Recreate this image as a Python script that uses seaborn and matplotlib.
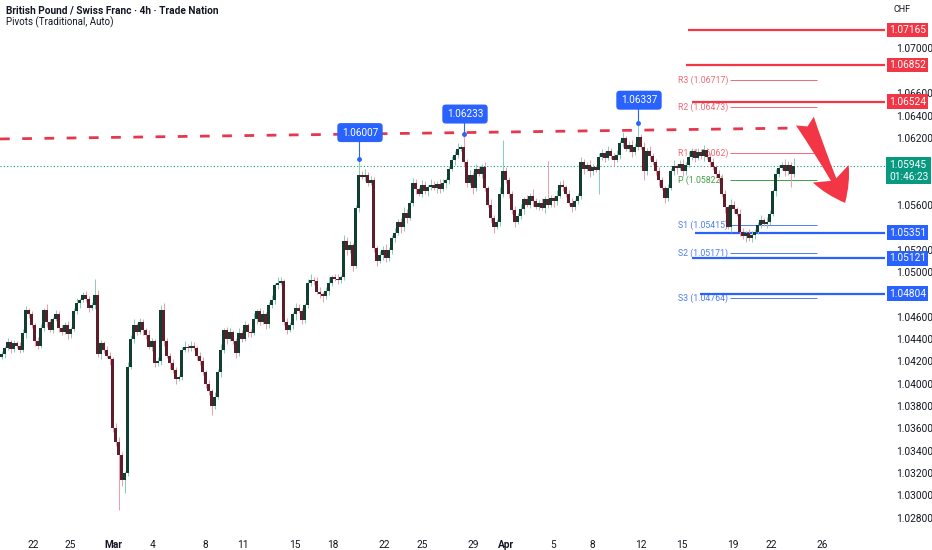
import numpy as np
import pandas as pd
import matplotlib
matplotlib.use("Agg")
import matplotlib.pyplot as plt
import matplotlib.transforms as mtransforms
import seaborn as sns

# 4h candles, closes (open = previous close)
first_open = 1.0424
closes = [
    1.0426, 1.0432, 1.0437, 1.0431, 1.0436, 1.0434, 1.0430, 1.0445, 1.0466, 1.0462,
    1.0452, 1.0438, 1.0434, 1.0450, 1.0466, 1.0455, 1.0448, 1.0458, 1.0462, 1.0450,
    1.0446, 1.0452, 1.0444, 1.0449, 1.0465, 1.0472, 1.0475, 1.0479, 1.0476, 1.0468,
    1.0470, 1.0479, 1.0426, 1.0436, 1.0430, 1.0425, 1.0422, 1.0360, 1.0348, 1.0336,
    1.0314, 1.0320, 1.0415, 1.0440, 1.0452, 1.0446, 1.0455, 1.0448, 1.0443, 1.0433,
    1.0438, 1.0418, 1.0420, 1.0466, 1.0438, 1.0425, 1.0418, 1.0412, 1.0404, 1.0406,
    1.0430, 1.0433, 1.0432, 1.0434, 1.0432, 1.0425, 1.0420, 1.0410, 1.0400, 1.0393,
    1.0380, 1.0388, 1.0410, 1.0430, 1.0448, 1.0440, 1.0446, 1.0438, 1.0427, 1.0445,
    1.0440, 1.0452, 1.0446, 1.0445, 1.0458, 1.0465, 1.0455, 1.0462, 1.0453, 1.0470,
    1.0475, 1.0488, 1.0490, 1.0492, 1.0455, 1.0448, 1.0452, 1.0462, 1.0468, 1.0465,
    1.0457, 1.0470, 1.0490, 1.0493, 1.0492, 1.0482, 1.0480, 1.0478, 1.0483, 1.0490,
    1.0495, 1.0494, 1.0493, 1.0495, 1.0528, 1.0520, 1.0524, 1.0505, 1.0557, 1.0587,
    1.0585, 1.0587, 1.0580, 1.0582, 1.0521, 1.0510, 1.0515, 1.0520, 1.0512, 1.0520,
    1.0530, 1.0535, 1.0545, 1.0540, 1.0553, 1.0548, 1.0562, 1.0580, 1.0574, 1.0570,
    1.0578, 1.0572, 1.0576, 1.0578, 1.0575, 1.0579, 1.0574, 1.0580, 1.0582, 1.0592,
    1.0600, 1.0605, 1.0610, 1.0612, 1.0598, 1.0580, 1.0587, 1.0575, 1.0592, 1.0588,
    1.0594, 1.0575, 1.0560, 1.0548, 1.0540, 1.0545, 1.0570, 1.0590, 1.0582, 1.0570,
    1.0555, 1.0545, 1.0550, 1.0556, 1.0565, 1.0560, 1.0568, 1.0563, 1.0558, 1.0562,
    1.0557, 1.0565, 1.0560, 1.0566, 1.0563, 1.0568, 1.0578, 1.0576, 1.0570, 1.0562,
    1.0558, 1.0563, 1.0568, 1.0598, 1.0592, 1.0596, 1.0590, 1.0594, 1.0591, 1.0603,
    1.0606, 1.0602, 1.0608, 1.0604, 1.0600, 1.0605, 1.0615, 1.0620, 1.0610, 1.0614,
    1.0607, 1.0612, 1.0621, 1.0612, 1.0590, 1.0608, 1.0604, 1.0598, 1.0590, 1.0582,
    1.0575, 1.0566, 1.0575, 1.0590, 1.0595, 1.0593, 1.0597, 1.0590, 1.0596, 1.0603,
    1.0608, 1.0602, 1.0607, 1.0604, 1.0609, 1.0603, 1.0598, 1.0594, 1.0588, 1.0584,
    1.0570, 1.0558, 1.0540, 1.0560, 1.0556, 1.0552, 1.0536, 1.0532, 1.0535, 1.0530,
    1.0533, 1.0536, 1.0542, 1.0546, 1.0543, 1.0545, 1.0552, 1.0572, 1.0588, 1.0593,
    1.0596, 1.0590, 1.0596, 1.0588, 1.05945,
]
# wick lengths in pips above / below the body
upper_wick = [
    3, 2, 4, 2, 3, 2, 3, 4, 3, 2, 3, 2, 4, 3, 2, 5, 3, 2, 4, 3,
    2, 3, 4, 2, 3, 5, 2, 3, 4, 2, 3, 15, 5, 3, 2, 4, 3, 2, 5, 4,
    3, 2, 4, 3, 6, 2, 4, 3, 2, 5, 3, 2, 4, 4, 6, 3, 2, 4, 3, 2,
    3, 5, 2, 4, 3, 2, 3, 4, 2, 3, 2, 4, 3, 5, 2, 3, 4, 2, 3, 5,
    3, 4, 2, 3, 5, 2, 3, 4, 2, 3, 4, 2, 5, 3, 2, 4, 3, 2, 4, 3,
    3, 2, 4, 5, 2, 3, 4, 2, 3, 5, 2, 3, 4, 2, 5, 3, 4, 2, 3, 14,
    3, 5, 2, 4, 3, 2, 4, 3, 5, 2, 3, 4, 2, 3, 5, 3, 2, 4, 3, 2,
    4, 3, 2, 5, 3, 2, 4, 3, 2, 3, 4, 3, 5, 2, 11, 3, 4, 2, 5, 3,
    3, 4, 2, 5, 3, 2, 6, 28, 4, 3, 2, 4, 3, 5, 2, 4, 3, 6, 3, 2,
    4, 3, 34, 3, 2, 5, 3, 4, 2, 3, 4, 2, 3, 5, 3, 2, 4, 3, 2, 3,
    4, 2, 5, 3, 2, 4, 3, 5, 2, 3, 4, 3, 12, 2, 4, 3, 5, 2, 3, 4,
    3, 2, 4, 3, 5, 2, 3, 4, 2, 5, 3, 2, 4, 3, 5, 2, 3, 4, 2, 3,
    4, 3, 2, 5, 3, 2, 4, 3, 2, 3, 4, 2, 3, 5, 2, 4, 3, 2, 4, 3,
    2, 5, 3, 2, 7,
]
lower_wick = [
    2, 3, 2, 4, 3, 2, 3, 2, 4, 3, 2, 4, 3, 2, 3, 4, 2, 3, 2, 4,
    3, 2, 4, 3, 2, 3, 4, 2, 3, 4, 2, 3, 2, 4, 3, 2, 5, 3, 4, 49,
    6, 12, 3, 2, 4, 3, 2, 5, 3, 2, 4, 3, 2, 3, 4, 2, 5, 3, 4, 2,
    3, 2, 4, 3, 2, 4, 3, 2, 4, 3, 8, 3, 2, 4, 3, 5, 2, 3, 4, 2,
    3, 2, 4, 3, 2, 5, 3, 2, 4, 3, 2, 4, 3, 2, 3, 4, 2, 3, 5, 2,
    4, 3, 2, 3, 4, 2, 3, 5, 2, 4, 3, 2, 4, 3, 2, 5, 3, 4, 2, 3,
    2, 4, 3, 2, 3, 5, 2, 4, 3, 2, 4, 3, 2, 5, 3, 4, 2, 3, 4, 2,
    3, 2, 4, 3, 2, 4, 3, 2, 5, 3, 2, 4, 3, 2, 3, 4, 2, 5, 3, 2,
    4, 3, 2, 3, 5, 2, 4, 3, 2, 4, 3, 5, 2, 3, 4, 2, 3, 4, 2, 3,
    2, 4, 3, 2, 5, 3, 2, 4, 3, 2, 4, 3, 2, 3, 4, 2, 5, 3, 2, 21,
    3, 4, 2, 3, 5, 2, 4, 3, 2, 3, 4, 2, 3, 2, 8, 3, 4, 2, 3, 5,
    2, 4, 3, 2, 3, 5, 2, 4, 3, 2, 3, 4, 2, 3, 5, 2, 4, 3, 2, 4,
    3, 5, 2, 4, 3, 2, 4, 3, 5, 2, 3, 4, 2, 3, 2, 4, 3, 2, 4, 3,
    2, 4, 3, 12, 3,
]

# swing highs with price callouts
callout_bars = [119, 154, 212]
callout_prices = [1.06007, 1.06233, 1.06337]
callout_lift = [0.0024, 0.0018, 0.0020]

# descending resistance trend line (bar index, price)
trend_x = [-0.5, 265.2]
trend_y = [1.06190, 1.06288]

# key levels
red_levels = [1.07165, 1.06852, 1.06524]
red_starts = [228.8, 228.2, 230.2]
blue_levels = [1.05351, 1.05121, 1.04804]
blue_starts = [231.2, 230.2, 232.8]

# traditional pivots
pivot_names = ["R3", "R2", "R1", "P", "S1", "S2", "S3"]
pivot_values = [1.06717, 1.06473, 1.06062, 1.05822, 1.05415, 1.05171, 1.04764]
pivot_colors = ["#f06a77", "#f06a77", "#f06a77", "#43a047", "#4f7cf0", "#4f7cf0", "#4f7cf0"]
pivot_from, pivot_to, pivot_label_x = 242.8, 271.8, 225.5

last_price = 1.05945
countdown = "01:46:23"

date_positions = [10.5, 22.8, 37.2, 50.2, 67.8, 80.5, 97.8, 110.5, 127.5, 140.2,
                  157.2, 168.2, 183.8, 196.8, 213.2, 226.8, 243.8, 256.5, 273.5]
date_labels = ["22", "25", "Mar", "4", "8", "11", "15", "18", "22", "25",
               "29", "Apr", "5", "8", "12", "15", "19", "22", "26"]
price_ticks = np.round(np.arange(1.028, 1.0721, 0.002), 3)

sns.set_theme(style="white")
plt.rcParams["font.family"] = ["Roboto", "DejaVu Sans"]

RED = "#f23645"
BLUE = "#2962ff"
GREEN = "#089981"
TXT = "#131722"

df = pd.DataFrame({"close": closes})
df["open"] = [first_open] + closes[:-1]
df["bar"] = np.arange(len(df))
body_top = df[["open", "close"]].max(axis=1)
body_bot = df[["open", "close"]].min(axis=1)
df["high"] = body_top + np.array(upper_wick) * 1e-4
df["low"] = body_bot - np.array(lower_wick) * 1e-4
df.loc[callout_bars, "high"] = callout_prices
up = df["close"] >= df["open"]

fig = plt.figure(figsize=(9.32, 5.5), dpi=100)
ax = fig.add_axes([0, 18 / 550, 885 / 932, 532 / 550])
ax.set_xlim(-0.5, 294.5)
ax.set_ylim(1.026703, 1.074343)
for s in ax.spines.values():
    s.set_visible(False)

# current price dotted line
ax.axhline(last_price, color=GREEN, lw=0.8, ls=(0, (1, 2)), zorder=1)

# pivots
for name, val, col in zip(pivot_names, pivot_values, pivot_colors):
    ax.hlines(val, pivot_from, pivot_to, color=col, lw=0.7, zorder=1)
    ax.text(pivot_label_x, val, f"{name} ({val:.5f})", color=col, fontsize=6.3,
            va="center", ha="left", zorder=1)

# key levels
xr = ax.get_xlim()[1]
for lvl, st in zip(red_levels, red_starts):
    ax.hlines(lvl, st, xr, color=RED, lw=1.6, zorder=2)
for lvl, st in zip(blue_levels, blue_starts):
    ax.hlines(lvl, st, xr, color=BLUE, lw=1.6, zorder=2)

# trend line
sns.lineplot(x=trend_x, y=trend_y, ax=ax, color="#e5384f", lw=2.0,
             linestyle=(0, (3.5, 4.5)), zorder=2)

# candles
wick_col = np.where(up, "#86cdb6", "#f19aa9")
body_col = np.where(up, "#123d31", "#5e1d2a")
ax.vlines(df["bar"], df["low"], df["high"], colors=wick_col, lw=0.7, zorder=3)
heights = np.maximum(body_top - body_bot, 0.00009)
ax.bar(df["bar"], heights, bottom=body_bot, width=0.68, color=body_col,
       linewidth=0, zorder=4)

# callouts
for b, p, lift in zip(callout_bars, callout_prices, callout_lift):
    ax.plot([b, b], [p, p + lift], color=BLUE, lw=0.8, zorder=5)
    ax.plot([b], [p], "o", color=BLUE, ms=2.5, zorder=5)
    ax.text(b + 0.5, p + lift, f"{p:.5f}", color="white", fontsize=7.2,
            ha="center", va="center", zorder=6,
            bbox=dict(boxstyle="round,pad=0.45,rounding_size=0.35", fc=BLUE, ec="none"))

# bearish arrow
ax.annotate("", xy=(281.2, 1.05617), xytext=(267.8, 1.06350),
            arrowprops=dict(arrowstyle="fancy,head_length=0.9,head_width=1.1,tail_width=0.55",
                            fc=RED, ec="none", mutation_scale=26,
                            shrinkA=0, shrinkB=0), zorder=6)

# price axis: labels hidden where a level box sits on top of them
box_levels = red_levels + blue_levels
tick_text = []
for v in price_ticks:
    covered = any(abs(v - lvl) < 0.0007 for lvl in box_levels)
    covered = covered or (last_price - 0.0019 < v < last_price + 0.0010)
    tick_text.append("" if covered else f"{v:.5f}")
ax.yaxis.tick_right()
ax.set_yticks(price_ticks)
ax.set_yticklabels(tick_text)
ax.tick_params(axis="y", length=0, pad=8, labelsize=7.3, labelcolor=TXT)
ax.set_xticks(date_positions)
ax.set_xticklabels(date_labels)
ax.tick_params(axis="x", length=0, pad=6, labelsize=7.3, labelcolor=TXT)
for lab in ax.get_xticklabels():
    if lab.get_text() in ("Mar", "Apr"):
        lab.set_fontweight("bold")

trans = mtransforms.blended_transform_factory(ax.transAxes, ax.transData)
box_x = 1 + 4 / 885
for lvl in red_levels:
    ax.text(box_x, lvl, f"{lvl:.5f}", transform=trans, color="white", fontsize=7.3,
            ha="left", va="center", clip_on=False, zorder=7,
            bbox=dict(boxstyle="square,pad=0.22", fc=RED, ec="none"))
for lvl in blue_levels:
    ax.text(box_x, lvl, f"{lvl:.5f}", transform=trans, color="white", fontsize=7.3,
            ha="left", va="center", clip_on=False, zorder=7,
            bbox=dict(boxstyle="square,pad=0.22", fc=BLUE, ec="none"))
ax.text(box_x, last_price - 0.0004, f"{last_price:.5f}\n{countdown}", transform=trans,
        color="white", fontsize=7.3, ha="left", va="center", linespacing=1.25,
        clip_on=False, zorder=7, bbox=dict(boxstyle="square,pad=0.25", fc=GREEN, ec="none"))

fig.text(893 / 932, 1 - 10 / 550, "CHF", fontsize=6.5, color=TXT, va="center")
fig.text(6 / 932, 1 - 10 / 550, "British Pound / Swiss Franc · 4h · Trade Nation",
         fontsize=7.3, fontweight="bold", color=TXT, va="center")
fig.text(6 / 932, 1 - 22 / 550, "Pivots (Traditional, Auto)", fontsize=7,
         color=TXT, va="center")

fig.savefig("out.png", dpi=100, facecolor="white")
